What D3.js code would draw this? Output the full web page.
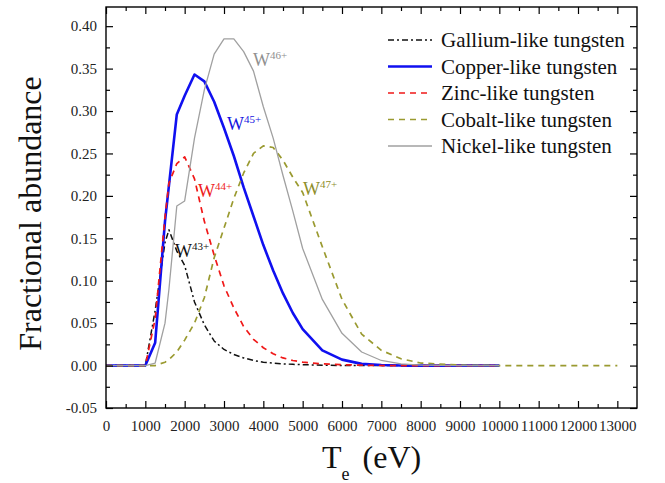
<!DOCTYPE html>
<html>
<head>
<meta charset="utf-8">
<script src="https://cdn.jsdelivr.net/npm/d3@7"></script>
<style>
  body { margin: 0; background: #fff; }
  svg text { font-family: "Liberation Serif", "Times New Roman", Times, serif; }
</style>
</head>
<body>
<div id="chart"></div>
<script>
////////////////////////////  Data  ////////////////////////////
const te = [0, 500, 1000, 1250, 1500, 1600, 1800, 2000, 2250, 2500, 2750, 3000,
  3250, 3500, 3750, 4000, 4250, 4500, 4750, 5000, 5500, 6000, 6500, 7000,
  7500, 8000, 9000, 10000, 11000, 12000, 13000];

const gallium = [0, 0, 0, 0.065, 0.145, 0.16, 0.135, 0.118, 0.075, 0.048, 0.029, 0.019,
  0.013, 0.009, 0.006, 0.004, 0.003, 0.002, 0.0015, 0.001, 0.0005, 0, 0, 0,
  0, 0, 0, 0, null, null, null];
const copper = [0, 0, 0, 0.027, 0.17, 0.212, 0.296, 0.318, 0.343, 0.335, 0.311, 0.28,
  0.247, 0.21, 0.176, 0.142, 0.112, 0.085, 0.062, 0.043, 0.018, 0.007, 0.002, 0.0007,
  0, 0, 0, 0, null, null, null];
const zinc = [0, 0, 0, 0.055, 0.175, 0.215, 0.238, 0.246, 0.22, 0.17, 0.13, 0.094,
  0.068, 0.046, 0.031, 0.021, 0.014, 0.009, 0.006, 0.004, 0.002, 0.001, 0.0005, 0,
  0, 0, 0, 0, null, null, null];
const cobalt = [0, 0, 0, 0, 0.004, 0.007, 0.016, 0.03, 0.05, 0.08, 0.127, 0.162,
  0.197, 0.227, 0.25, 0.259, 0.257, 0.242, 0.222, 0.204, 0.14, 0.078, 0.037, 0.018,
  0.008, 0.003, 0.0005, 0, 0, 0, 0];
const nickel = [0, 0, 0, 0.003, 0.05, 0.09, 0.188, 0.194, 0.268, 0.325, 0.367, 0.385,
  0.385, 0.37, 0.347, 0.305, 0.268, 0.224, 0.182, 0.138, 0.078, 0.038, 0.016, 0.006,
  0.002, 0.0005, 0, 0, null, null, null];

const seriesNames = ["Gallium-like tungsten", "Copper-like tungsten", "Zinc-like tungsten",
  "Cobalt-like tungsten", "Nickel-like tungsten"];
const seriesValues = [gallium, copper, zinc, cobalt, nickel];

const xTicks = d3.range(0, 13001, 1000);
const yTicks = [-0.05, 0, 0.05, 0.1, 0.15, 0.2, 0.25, 0.3, 0.35, 0.4];

// ion labels: text, superscript, anchor (Te, value), series index
const ionLabels = [
  { text: "W", sup: "43+", te: 1754, val: 0.128, s: 0 },
  { text: "W", sup: "45+", te: 3076, val: 0.2776, s: 1 },
  { text: "W", sup: "44+", te: 2339, val: 0.1987, s: 2 },
  { text: "W", sup: "47+", te: 5008, val: 0.201, s: 3 },
  { text: "W", sup: "46+", te: 3737, val: 0.353, s: 4 },
];

////////////////////////////  Style  ////////////////////////////
const serif = '"Liberation Serif", "Times New Roman", Times, serif';
const styles = [
  { color: "#111111", width: 1.5, dash: "6,3,2,3", label: "#111111" },
  { color: "#1010f0", width: 2.6, dash: null, label: "#1515e0" },
  { color: "#f01818", width: 1.7, dash: "6,5", label: "#ee1c1c" },
  { color: "#9a9a30", width: 1.7, dash: "6,5", label: "#8e8e2a" },
  { color: "#a0a0a0", width: 1.3, dash: null, label: "#909090" },
];

const width = 665, height = 483;
const margin = { top: 7, right: 28, bottom: 75, left: 106 };

const svg = d3.select("#chart").append("svg")
  .attr("width", width).attr("height", height);

const x = d3.scaleLinear().domain([0, 13500]).range([margin.left, width - margin.right]);
const y = d3.scaleLinear().domain([-0.05, 0.4226]).range([height - margin.bottom, margin.top]);

const plotL = x.range()[0], plotR = x.range()[1];
const plotT = y.range()[1], plotB = y.range()[0];

////////////////////////////  Axes  ////////////////////////////
const xMinor = d3.range(500, 13500, 1000);
const yMinor = d3.range(-0.025, 0.42, 0.05);

const fmtY = (d) => d.toFixed(2);

function addAxis(axis, pos, vertical) {
  svg.append("g")
    .attr("transform", vertical ? `translate(${pos},0)` : `translate(0,${pos})`)
    .call(axis)
    .call((g) => g.select(".domain").remove())
    .attr("font-family", serif)
    .attr("font-size", 15);
}

function drawAxes() {
  // bottom
  addAxis(d3.axisBottom(x).tickValues(xTicks).tickSize(-7).tickPadding(12).tickFormat(d3.format("d")), plotB);
  addAxis(d3.axisBottom(x).tickValues(xMinor).tickSize(-4).tickFormat(""), plotB);
  // top
  addAxis(d3.axisTop(x).tickValues(xTicks).tickSize(-7).tickFormat(""), plotT);
  addAxis(d3.axisTop(x).tickValues(xMinor).tickSize(-4).tickFormat(""), plotT);
  // left
  addAxis(d3.axisLeft(y).tickValues(yTicks).tickSize(-7).tickPadding(9).tickFormat(fmtY), plotL, true);
  addAxis(d3.axisLeft(y).tickValues(yMinor).tickSize(-4).tickFormat(""), plotL, true);
  // right
  addAxis(d3.axisRight(y).tickValues(yTicks).tickSize(-7).tickFormat(""), plotR, true);
  addAxis(d3.axisRight(y).tickValues(yMinor).tickSize(-4).tickFormat(""), plotR, true);

  svg.selectAll(".tick line").attr("stroke", "#000").attr("stroke-width", 1.2);
  svg.selectAll(".tick text").attr("fill", "#222");

  // frame
  svg.append("rect")
    .attr("x", plotL).attr("y", plotT)
    .attr("width", plotR - plotL).attr("height", plotB - plotT)
    .attr("fill", "none").attr("stroke", "#000").attr("stroke-width", 1.4);
}

////////////////////////////  Lines  ////////////////////////////
const line = d3.line()
  .defined((d) => d[1] !== null)
  .x((d) => x(d[0]))
  .y((d) => y(d[1]));

svg.append("clipPath").attr("id", "clip")
  .append("rect").attr("x", plotL).attr("y", plotT)
  .attr("width", plotR - plotL).attr("height", plotB - plotT);

const lineG = svg.append("g").attr("clip-path", "url(#clip)");

seriesValues.forEach((vals, i) => {
  const pts = te.map((t, j) => [t, vals[j]]);
  lineG.append("path")
    .datum(pts)
    .attr("d", line)
    .attr("fill", "none")
    .attr("stroke", styles[i].color)
    .attr("stroke-width", styles[i].width)
    .attr("stroke-dasharray", styles[i].dash)
    .attr("stroke-linejoin", "round");
});

drawAxes();

////////////////////////////  Ion labels  ////////////////////////////
ionLabels.forEach((d) => {
  const t = svg.append("text")
    .attr("x", x(d.te))
    .attr("y", y(d.val))
    .attr("fill", styles[d.s].label)
    .attr("font-family", serif)
    .attr("font-size", 18)
    .text(d.text);
  t.append("tspan")
    .attr("dy", -7)
    .attr("font-size", 11)
    .text(d.sup);
});

////////////////////////////  Legend  ////////////////////////////
const legendX = 388, legendY = 40, legendStep = 26.5;

const legend = svg.selectAll(".legend")
  .data(seriesNames)
  .enter()
  .append("g")
  .attr("class", "legend")
  .attr("transform", (d, i) => `translate(${legendX},${legendY + legendStep * i})`);

legend.append("line")
  .attr("x1", 0).attr("x2", 44)
  .attr("y1", 0).attr("y2", 0)
  .attr("stroke", (d, i) => styles[i].color)
  .attr("stroke-width", (d, i) => styles[i].width)
  .attr("stroke-dasharray", (d, i) => styles[i].dash);

legend.append("text")
  .attr("x", 53)
  .attr("y", 7)
  .attr("fill", "#111")
  .attr("font-family", serif)
  .attr("font-size", 21)
  .text((d) => d);

////////////////////////////  Titles  ////////////////////////////
svg.append("text")
  .attr("transform", `translate(41,${(plotT + plotB) / 2 + 6}) rotate(-90)`)
  .attr("text-anchor", "middle")
  .attr("fill", "#111")
  .attr("font-family", serif)
  .attr("font-size", 32)
  .text("Fractional abundance");

const xt = svg.append("text")
  .attr("x", 322)
  .attr("y", 468)
  .attr("fill", "#111")
  .attr("font-family", serif)
  .attr("font-size", 32);
xt.append("tspan").text("T");
xt.append("tspan").attr("dy", 12).attr("font-size", 18).text("e");
xt.append("tspan").attr("dy", -12).attr("dx", 13).text("(eV)");
</script>
</body>
</html>
